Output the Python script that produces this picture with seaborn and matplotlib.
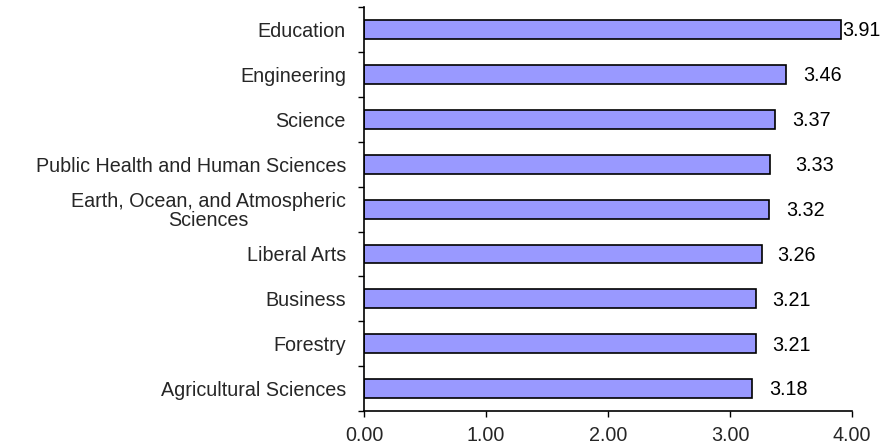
import matplotlib
matplotlib.use("Agg")
import matplotlib.pyplot as plt
import seaborn as sns
import pandas as pd
import numpy as np

categories = ["Education", "Engineering", "Science", "Public Health and Human Sciences",
              "Earth, Ocean, and Atmospheric\nSciences", "Liberal Arts", "Business",
              "Forestry", "Agricultural Sciences"]
values = [3.91, 3.46, 3.37, 3.33, 3.32, 3.26, 3.21, 3.21, 3.18]
xticks = [0, 1, 2, 3, 4]
# label offsets (points) mimicking the original's uneven placement
label_pads = [0.5, 12, 12, 18, 12, 11, 12, 12, 12]

sns.set_theme(style="white")
plt.rcParams['font.family'] = ['Liberation Sans', 'DejaVu Sans']
FS = 14.2

df = pd.DataFrame({"cat": categories, "val": values})
fig = plt.figure(figsize=(8.82, 4.47), dpi=100)
ax = fig.add_axes([0.4127, 0.0805, 0.5535, 0.9035])
sns.barplot(data=df, y="cat", x="val", orient="h", color="#9999FF",
            edgecolor="black", linewidth=1.2, width=0.42, saturation=1, ax=ax)

bars = ax.containers[0]
for rect, v, p in zip(bars, values, label_pads):
    ax.annotate(f"{v:.2f}", xy=(rect.get_x() + rect.get_width(), rect.get_y() + rect.get_height() / 2),
                xytext=(p, -1), textcoords="offset points", ha="left", va="center",
                fontsize=FS, color="black")

n = len(categories)
ax.set_ylim(n - 0.5, -0.5)
ax.set_xlim(0, 4)
ax.set_xticks(xticks)
ax.set_xticklabels([f"{v:.2f}" for v in xticks], fontsize=FS)
ax.set_yticks(np.arange(-0.5, n, 1.0))
ax.set_yticklabels([])
ax.set_yticks(np.arange(n), minor=True)
ax.set_yticklabels(categories, minor=True, fontsize=FS)
for lab in ax.get_yticklabels(minor=True):
    lab.set_multialignment("center")
    lab.set_linespacing(1.0)
ax.tick_params(axis="y", which="major", left=True, length=4, width=1, color="black", direction="out")
ax.tick_params(axis="y", which="minor", length=0, pad=13)
ax.tick_params(axis="x", which="major", bottom=True, length=4, width=1, color="black", direction="out", pad=7)
ax.set_xlabel("")
ax.set_ylabel("")
for s in ["top", "right"]:
    ax.spines[s].set_visible(False)
for s in ["left", "bottom"]:
    ax.spines[s].set_color("black")
    ax.spines[s].set_linewidth(1.2)
ax.grid(False)

fig.savefig("out.png", dpi=100)
